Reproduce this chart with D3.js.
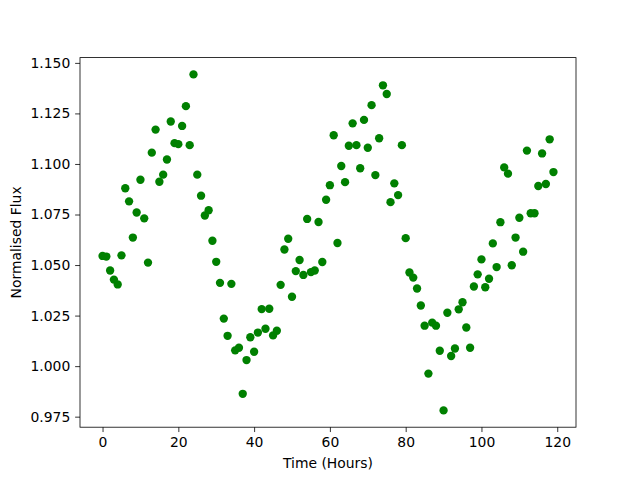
<!DOCTYPE html>
<html><head><meta charset="utf-8">
<script src="https://cdn.jsdelivr.net/npm/d3@7"></script>
<style>body{margin:0;background:#fff}svg{display:block}text{font-family:"DejaVu Sans",sans-serif}</style>
</head><body><svg id="c" width="640" height="480"></svg>
<script>
const hours = d3.range(0, 120);
const flux = [
1.0545,1.0542,1.0473,1.0428,1.0404,1.0548,1.0880,1.0815,1.0636,1.0760,
1.0922,1.0731,1.0512,1.1056,1.1170,1.0912,1.0947,1.1022,1.1210,1.1103,
1.1098,1.1188,1.1286,1.1093,1.1443,1.0947,1.0843,1.0745,1.0771,1.0620,
1.0516,1.0412,1.0235,1.0150,1.0407,1.0078,1.0091,0.9863,1.0030,1.0143,
1.0071,1.0166,1.0282,1.0185,1.0284,1.0152,1.0175,1.0402,1.0577,1.0630,
1.0343,1.0470,1.0525,1.0451,1.0728,1.0465,1.0473,1.0713,1.0515,1.0823,
1.0895,1.1142,1.0609,1.0990,1.0910,1.1090,1.1201,1.1093,1.0979,1.1218,
1.1080,1.1291,1.0945,1.1127,1.1389,1.1346,1.0811,1.0904,1.0846,1.1093,
1.0633,1.0463,1.0438,1.0384,1.0300,1.0200,0.9963,1.0215,1.0200,1.0076,
0.9781,1.0264,1.0050,1.0087,1.0281,1.0316,1.0191,1.0091,1.0394,1.0454,
1.0528,1.0390,1.0432,1.0607,1.0490,1.0712,1.0983,1.0952,1.0499,1.0636,
1.0734,1.0566,1.1066,1.0756,1.0756,1.0891,1.1052,1.0901,1.1122,1.0960
];
const yTicks = [0.975,1.000,1.025,1.050,1.075,1.100,1.125,1.150];
const xTicks = [0,20,40,60,80,100,120];

const svg = d3.select("#c");
const L=80,R=576,T=57.6,B=427.2;
const xr = d3.extent(hours), yr = d3.extent(flux);
const xp = (xr[1]-xr[0])*0.05, yp = (yr[1]-yr[0])*0.05;
const x = d3.scaleLinear().domain([xr[0]-xp, xr[1]+xp]).range([L,R]);
const y = d3.scaleLinear().domain([yr[0]-yp, yr[1]+yp]).range([B,T]);

const pts = hours.map((h,i)=>({h, f:flux[i]}));
svg.append("g").selectAll("circle").data(pts).join("circle")
  .attr("cx",d=>x(d.h)).attr("cy",d=>y(d.f)).attr("r",4.17).attr("fill","#008000");

svg.append("rect").attr("x",L).attr("y",T).attr("width",R-L).attr("height",B-T)
  .attr("fill","none").attr("stroke","#000").attr("stroke-width",0.8);

const xa = svg.append("g").attr("transform",`translate(0,${B})`)
  .call(d3.axisBottom(x).tickValues(xTicks).tickFormat(d3.format("d")).tickSize(4.86).tickPadding(4.86));
const ya = svg.append("g").attr("transform",`translate(${L},0)`)
  .call(d3.axisLeft(y).tickValues(yTicks).tickFormat(d3.format(".3f")).tickSize(4.86).tickPadding(4.86));
[xa,ya].forEach(a=>{a.select(".domain").remove();
  a.selectAll("line").attr("stroke","#000").attr("stroke-width",0.8);
  a.selectAll("text").attr("font-size","13.9px").attr("font-family","DejaVu Sans").attr("fill","#000");});

svg.append("text").attr("x",(L+R)/2).attr("y",468).attr("text-anchor","middle")
  .attr("font-size","13.9px").text("Time (Hours)");
svg.append("text").attr("transform",`translate(21,${(T+B)/2}) rotate(-90)`).attr("text-anchor","middle")
  .attr("font-size","13.9px").text("Normalised Flux");
</script></body></html>
